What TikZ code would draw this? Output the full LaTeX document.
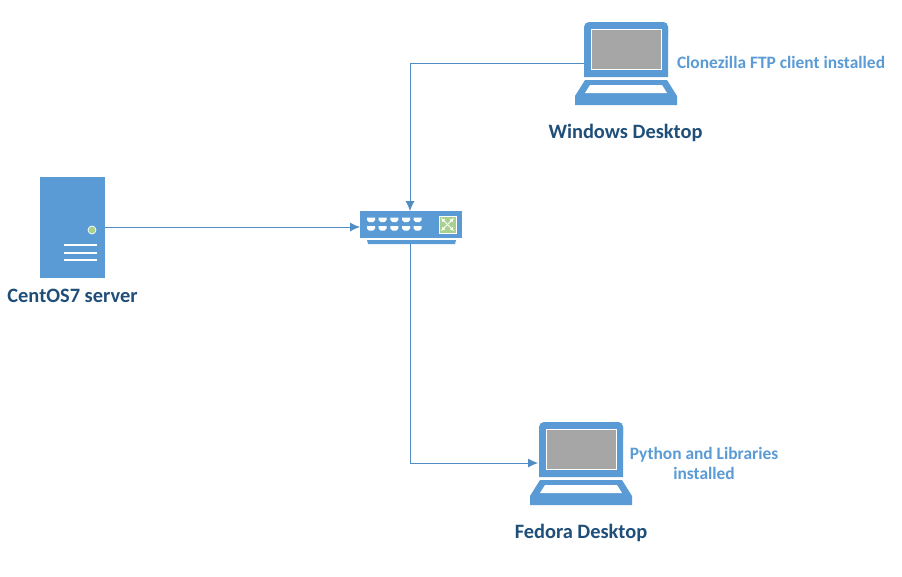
\documentclass[tikz,border=0pt]{standalone}
\usepackage{fontspec}
\setmainfont{Carlito}
\usetikzlibrary{positioning}
\usetikzlibrary{arrows.meta}
\definecolor{devblue}{HTML}{5B9BD5}
\definecolor{wireblue}{HTML}{4F8DC4}
\definecolor{titleblue}{HTML}{1F4E79}
\definecolor{screengrey}{HTML}{A6A6A6}
\definecolor{ledgreen}{HTML}{A9D18E}
\tikzset{
  device/.style={rectangle,fill=devblue,inner sep=0pt,outer sep=0pt},
  title/.style={text=titleblue,font=\fontsize{20.4}{22}\selectfont\bfseries,inner sep=0pt},
  note/.style={text=devblue,font=\fontsize{17.4}{20}\selectfont\bfseries,inner sep=0pt,align=center},
  wire/.style={draw=wireblue,line width=0.8pt,-{Latex[length=10pt,width=9pt]}},
  hubarrow/.style={white,line width=0.9pt,{Latex[length=4pt,width=4pt]}-{Latex[length=4pt,width=4pt]}},
  laptop/.pic={
    \node (-body) [rectangle,inner sep=0pt,outer sep=0pt,minimum width=84pt,minimum height=55pt] at (42,27.5) {};
    \coordinate (-port) at (0,41);
    \fill[devblue] (0,55) [rounded corners=5pt] -- (0,0) -- (84,0) [sharp corners] -- (84,55) -- cycle;
    \fill[devblue,rounded corners=5pt] (50,0) -- (84,0) -- (84,20) -- (50,20) -- cycle;
    \node [rectangle,fill=screengrey,draw=white,line width=0.8pt,inner sep=0pt,minimum width=70pt,minimum height=40pt] at (42,27) {};
    \fill[devblue] (1,58) -- (83,58) -- (93,74) -- (93,83) -- (-9,83) -- (-9,74) -- cycle;
    \fill[white] (6,63) -- (78,63) -- (83,71) -- (1,71) -- cycle;
  },
}
\begin{document}
\begin{tikzpicture}[x=1pt,y=-1pt,node distance=10pt]
\useasboundingbox[fill=white] (0,0) rectangle (902,576);
% server
\node (server) [device,minimum width=65pt,minimum height=101pt] at (72.5,227.5) {};
\node (led) [circle,fill=ledgreen,draw=white,line width=0.7pt,inner sep=0pt,minimum size=8pt] at (92,230) {};
\foreach \y in {245,253,260}
  \draw[white,line width=1.2pt] (64,\y) -- (97,\y);
\node (serverlabel) [title,below=11pt of server] {CentOS7 server};
% switch
\node (switch) [device,minimum width=102pt,minimum height=27pt] at (411,224.5) {};
\fill[devblue] (367,240) -- (456,240) -- (455,244) -- (368,244) -- cycle;
\coordinate (switchbase) at (410,244);
\foreach \x in {371,382.7,394.3,406,417.7}
  \foreach \y in {217.5,226}
    \fill[white] (\x-4,\y) -- (\x+4,\y) -- (\x+4,\y+2.5) -- (\x+2,\y+4.5) -- (\x-2,\y+4.5) -- (\x-4,\y+2.5) -- cycle;
\node (hub) [rectangle,fill=ledgreen,draw=white,line width=0.9pt,inner sep=0pt,minimum size=17pt] at (447.5,224.5) {};
\draw[hubarrow] ([xshift=2.5pt,yshift=-2.5pt]hub.north west) -- ([xshift=-2.5pt,yshift=2.5pt]hub.south east);
\draw[hubarrow] ([xshift=2.5pt,yshift=2.5pt]hub.south west) -- ([xshift=-2.5pt,yshift=-2.5pt]hub.north east);
% laptops
\pic (win) at (584,22) {laptop};
\pic (fed) at (539,422) {laptop};
\node (winlabel) [title] at (625.5,133) {Windows Desktop};
\node (fedlabel) [title] at (581,533) {Fedora Desktop};
\node (winnote) [note] at (781,62.5) {Clonezilla FTP client installed};
\node (fednote) [note] at (704,463) {Python and Libraries\\installed};
% connectors
\draw[wire] (server.east |- 0,227) -- (switch.west |- 0,227);
\draw[wire] (win-port) -| (switch.north -| switchbase);
\draw[wire] (switchbase) |- ([xshift=-1pt]fed-port);
\end{tikzpicture}
\end{document}
